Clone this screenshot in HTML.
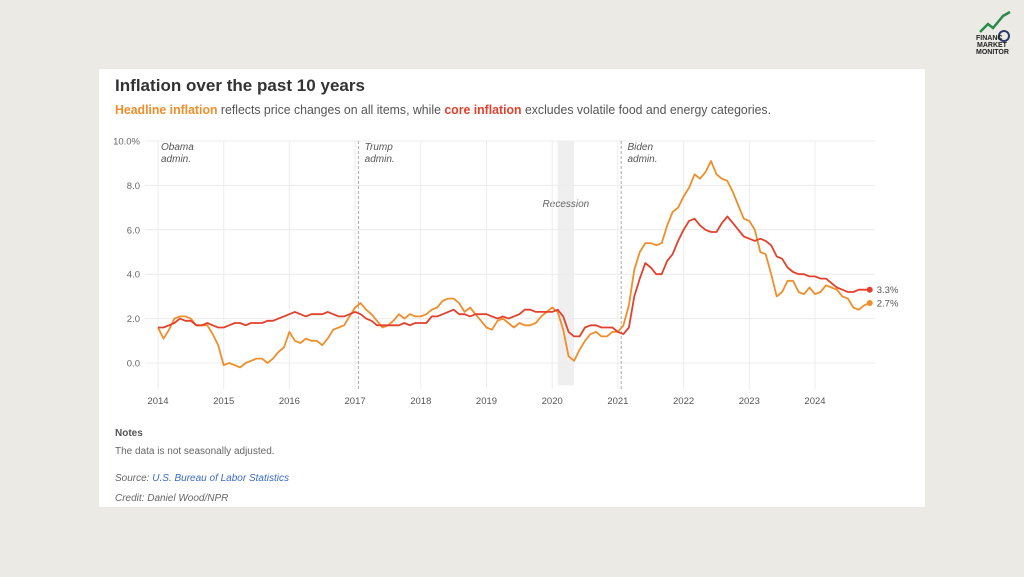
<!DOCTYPE html>
<html><head><meta charset="utf-8">
<style>
html,body{margin:0;padding:0;width:1024px;height:577px;overflow:hidden;background:#ebeae5;font-family:"Liberation Sans",sans-serif;}
svg{position:absolute;left:0;top:0;}
</style></head>
<body>
<svg id="chart" width="1024" height="577" viewBox="0 0 1024 577">
  <rect x="0" y="0" width="1024" height="577" fill="#ebeae5"/>
  <rect x="99" y="69" width="826" height="438" fill="#ffffff"/>
  <g>
    <polyline points="980,32 988,24 993,28 1003,16 1010,12" fill="none" stroke="#2a8a4a" stroke-width="2.5"/>
    <circle cx="1004" cy="36" r="5" fill="none" stroke="#2a3a6a" stroke-width="2"/>
    <text x="976" y="40" font-size="7" font-weight="bold" fill="#222" font-family="Liberation Sans, sans-serif">FINANC</text>
    <text x="977" y="47" font-size="7" font-weight="bold" fill="#222" font-family="Liberation Sans, sans-serif">MARKET</text>
    <text x="976" y="54" font-size="7" font-weight="bold" fill="#222" font-family="Liberation Sans, sans-serif">MONITOR</text>
  </g>
  <text x="115" y="91" font-size="17" font-weight="bold" fill="#333" textLength="250">Inflation over the past 10 years</text>
  <text x="115" y="114" font-size="12.5" fill="#555" textLength="656" lengthAdjust="spacingAndGlyphs"><tspan font-weight="bold" fill="#ef8e2b">Headline inflation</tspan> reflects price changes on all items, while <tspan font-weight="bold" fill="#e2412c">core inflation</tspan> excludes volatile food and energy categories.</text>
  <g id="plot"></g>
  <text x="115" y="436" font-size="10" font-weight="bold" fill="#555">Notes</text>
  <text x="115" y="454" font-size="10" fill="#666">The data is not seasonally adjusted.</text>
  <text x="115" y="481" font-size="10" font-style="italic" fill="#666">Source: <tspan fill="#3b6bc6">U.S. Bureau of Labor Statistics</tspan></text>
  <text x="115" y="501" font-size="10" font-style="italic" fill="#666">Credit: Daniel Wood/NPR</text>
</svg>
<script>
const years = ["2014","2015","2016","2017","2018","2019","2020","2021","2022","2023","2024"];
const yTicks = [0,2,4,6,8,10];
const yTickLabels = ["0.0","2.0","4.0","6.0","8.0","10.0%"];
const headline = [1.6,1.1,1.5,2.0,2.1,2.1,2.0,1.7,1.7,1.7,1.3,0.8,
-0.1,0.0,-0.1,-0.2,0.0,0.1,0.2,0.2,0.0,0.2,0.5,0.7,
1.4,1.0,0.9,1.1,1.0,1.0,0.8,1.1,1.5,1.6,1.7,2.1,
2.5,2.7,2.4,2.2,1.9,1.6,1.7,1.9,2.2,2.0,2.2,2.1,
2.1,2.2,2.4,2.5,2.8,2.9,2.9,2.7,2.3,2.5,2.2,1.9,
1.6,1.5,1.9,2.0,1.8,1.6,1.8,1.7,1.7,1.8,2.1,2.3,
2.5,2.3,1.5,0.3,0.1,0.6,1.0,1.3,1.4,1.2,1.2,1.4,
1.4,1.7,2.6,4.2,5.0,5.4,5.4,5.3,5.4,6.2,6.8,7.0,
7.5,7.9,8.5,8.3,8.6,9.1,8.5,8.3,8.2,7.7,7.1,6.5,
6.4,6.0,5.0,4.9,4.0,3.0,3.2,3.7,3.7,3.2,3.1,3.4,
3.1,3.2,3.5,3.4,3.3,3.0,2.9,2.5,2.4,2.6,2.7];
const core = [1.6,1.6,1.7,1.8,2.0,1.9,1.9,1.7,1.7,1.8,1.7,1.6,
1.6,1.7,1.8,1.8,1.7,1.8,1.8,1.8,1.9,1.9,2.0,2.1,
2.2,2.3,2.2,2.1,2.2,2.2,2.2,2.3,2.2,2.1,2.1,2.2,
2.3,2.2,2.0,1.9,1.7,1.7,1.7,1.7,1.7,1.8,1.7,1.8,
1.8,1.8,2.1,2.1,2.2,2.3,2.4,2.2,2.2,2.1,2.2,2.2,
2.2,2.1,2.0,2.1,2.0,2.1,2.2,2.4,2.4,2.3,2.3,2.3,
2.3,2.4,2.1,1.4,1.2,1.2,1.6,1.7,1.7,1.6,1.6,1.6,
1.4,1.3,1.6,3.0,3.8,4.5,4.3,4.0,4.0,4.6,4.9,5.5,
6.0,6.4,6.5,6.2,6.0,5.9,5.9,6.3,6.6,6.3,6.0,5.7,
5.6,5.5,5.6,5.5,5.3,4.8,4.7,4.3,4.1,4.0,4.0,3.9,
3.9,3.8,3.8,3.6,3.4,3.3,3.2,3.2,3.3,3.3,3.3];
const recession = [2020+1/12, 2020+4/12];
const adminStarts = [2017+0.05, 2021+0.05];
const adminLabels = [["Obama","admin."],["Trump","admin."],["Biden","admin."]];
const adminLabelYears = [2014, 2017.1, 2021.1];

const NS="http://www.w3.org/2000/svg";
const plot=document.getElementById('plot');
const X0=158, PXY=65.7, Y0=363, PXV=22.2;
function xs(yr){return X0+(yr-2014)*PXY;}
function ys(v){return Y0-v*PXV;}
function mk(tag,attrs,parent){const e=document.createElementNS(NS,tag);for(const k in attrs)e.setAttribute(k,attrs[k]);(parent||plot).appendChild(e);return e;}

const rb=mk('rect',{x:xs(recession[0]),y:ys(10),width:xs(recession[1])-xs(recession[0]),height:ys(-1)-ys(10),fill:'#efefef'});


const rt=mk('text',{x:(xs(recession[0])+xs(recession[1]))/2,y:ys(7.2)+4,'font-size':10,'font-style':'italic',fill:'#666','text-anchor':'middle'});
rt.textContent='Recession';



yTicks.forEach((t,i)=>{
  const g=mk('line',{x1:145,x2:875,y1:ys(t),y2:ys(t),stroke:'#ececec','stroke-width':1});
  
  
  const l=mk('text',{x:140,y:ys(t)+3.5,'font-size':9.5,fill:'#666','text-anchor':'end'});
  l.textContent=yTickLabels[i];
  
  
});
years.forEach((y,i)=>{
  const x=xs(+y);
  const g=mk('line',{x1:x,x2:x,y1:ys(10),y2:ys(-1)+4,stroke:'#ececec','stroke-width':1});
  
  
  const l=mk('text',{x:x,y:404,'font-size':9.5,fill:'#555','text-anchor':'middle'});
  l.textContent=y;
  
  
});
adminStarts.forEach(a=>{
  const d=mk('line',{x1:xs(a),x2:xs(a),y1:ys(10),y2:ys(-1)+4,stroke:'#aaa','stroke-width':1,'stroke-dasharray':'3,2'});
  
  
});
adminLabels.forEach((lb,i)=>{
  const t=mk('text',{x:xs(adminLabelYears[i])+3,y:ys(9.6),'font-size':10,'font-style':'italic',fill:'#555'});
  
  
  lb.forEach((s,j)=>{const ts=mk('tspan',{x:xs(adminLabelYears[i])+3,dy:j?12:0},t);ts.textContent=s;});
});

function series(data,color,name){
  const pts=data.map((v,i)=>xs(2014+i/12).toFixed(1)+','+ys(v).toFixed(1)).join(' ');
  const p=mk('polyline',{points:pts,fill:'none',stroke:color,'stroke-width':1.8,'stroke-linejoin':'round'});
  
  
  const n=data.length-1, lx=xs(2014+n/12), ly=ys(data[n]);
  const c=mk('circle',{cx:lx,cy:ly,r:3,fill:color});
  
  
  const t=mk('text',{x:lx+7,y:ly+3.5,'font-size':9.5,fill:'#555'});
  t.textContent=data[n].toFixed(1)+'%';
  
  
}
series(headline,'#ef8e2b','headline-line');
series(core,'#e2412c','core-line');
</script>
</body></html>
